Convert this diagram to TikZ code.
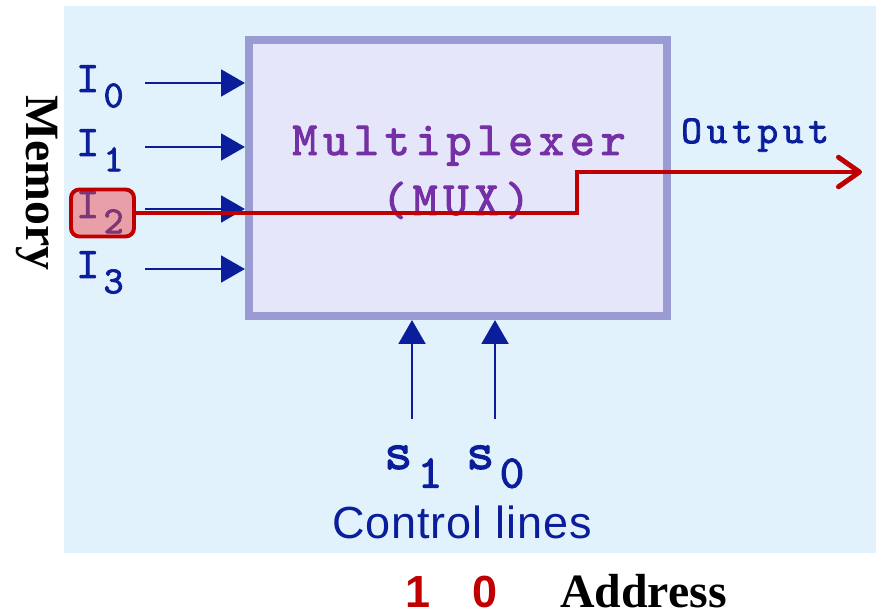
\documentclass[tikz,border=0pt]{standalone}
\usepackage{fontspec}
\usepackage{graphicx}
\usepackage{tikz}
\usetikzlibrary{arrows.meta,positioning}
\setsansfont{Liberation Sans}
\newfontfamily\addrfont{Liberation Serif}
\newfontfamily\muxfont{lmmono10-regular.otf}[FakeBold=2]

\definecolor{bgblue}{HTML}{E1F2FC}
\definecolor{boxfill}{HTML}{E6E6FA}
\definecolor{boxline}{HTML}{9B9BD3}
\definecolor{muxpurple}{HTML}{7430A4}
\definecolor{lineblue}{HTML}{0A1E9B}
\definecolor{selred}{HTML}{C00000}
\definecolor{selpink}{HTML}{F14E54}

% lowered index for the port names
\newcommand{\idx}[1]{\kern0.1em\raisebox{-0.35em}{\scalebox{0.88}{#1}}}

\begin{document}
\begin{tikzpicture}[
    x=0.025cm, y=-0.025cm,
    muxbox/.style={draw=boxline, fill=boxfill, line width=5.7pt, minimum width=10.45cm, minimum height=6.9cm, inner sep=0pt},
    muxtext/.style={text=muxpurple, inner sep=0pt, anchor=base, font=\fontsize{34}{34}\muxfont\addfontfeature{LetterSpace=12}},
    port/.style={text=lineblue, inner sep=0pt, font=\fontsize{31}{31}\muxfont},
    sel/.style={text=lineblue, inner sep=0pt, font=\fontsize{38}{38}\muxfont},
    inarr/.style={draw=lineblue, line width=2.1pt, -{Triangle[length=17pt,width=19pt]}},
    hilite/.style={draw=selred, fill=selpink, fill opacity=0.5, draw opacity=1, line width=2.8pt, rounded corners=6pt, minimum width=1.575cm, minimum height=1.175cm},
    selpath/.style={draw=selred, line width=3.5pt, -{Straight Barb[length=15pt,width=21pt,round]}},
    addr/.style={text=selred, inner sep=0pt, anchor=base, font=\fontsize{32}{32}\sffamily\bfseries},
]
\useasboundingbox (0,0) rectangle (879,615);

% Background
\fill[bgblue] (64,6) rectangle (876,553);

% Multiplexer
\node[muxbox] (mux) at (458,178) {};
\node[muxtext] (name) at (459,155) {Multiplexer};
\node[muxtext] (abbr) at (456,215) {(MUX)};

% Inputs
\node[port, anchor=base west] (i0) at (76,92) {I\idx{0}};
\node[port, anchor=base west] (i1) at (76,156) {I\idx{1}};
\node[port, anchor=base west] (i2) at (76,218) {I\idx{2}};
\node[port, anchor=base west] (i3) at (76,278) {I\idx{3}};
\coordinate (a0) at (145,83);
\coordinate (a1) at (145,147);
\coordinate (a2) at (145,209);
\coordinate (a3) at (145,269);
\draw[inarr] (a0) -- (a0 -| mux.west);
\draw[inarr] (a1) -- (a1 -| mux.west);
\draw[inarr] (a2) -- (a2 -| mux.west);
\draw[inarr] (a3) -- (a3 -| mux.west);

\node[rotate=-90, inner sep=0pt, font=\fontsize{34}{34}\addrfont\bfseries] (mem) at (37,183) {Memory};

% Selected input
\node[hilite] (pick) at (102.5,213) {};
\node[text=lineblue, inner sep=0pt, anchor=base west, font=\fontsize{28}{28}\muxfont\addfontfeature{LetterSpace=12}] (out) at (681,143) {Output};
\coordinate (step) at (577,213);
\coordinate (tip) at (862,172);
\draw[selpath] (pick.east) -- (step) |- (tip);

% Control lines
\coordinate (c1) at (412,419);
\coordinate (c0) at (495,419);
\draw[inarr] (c1) -- (c1 |- mux.south);
\draw[inarr] (c0) -- (c0 |- mux.south);
\node[sel, anchor=base west] (s1) at (384,469) {s\idx{1}};
\node[sel, anchor=base west] (s0) at (466,469) {s\idx{0}};
\node[text=lineblue, inner sep=0pt, anchor=base, font=\fontsize{32}{32}\sffamily\addfontfeature{LetterSpace=2}] (ctl) at (462,538) {Control lines};

% Address
\node[addr] (b1) at (418,607) {1};
\node[addr] (b0) at (485,607) {0};
\node[inner sep=0pt, anchor=base west, font=\fontsize{34}{34}\addrfont\bfseries] (word) at (560,607) {Address};

\end{tikzpicture}
\end{document}
